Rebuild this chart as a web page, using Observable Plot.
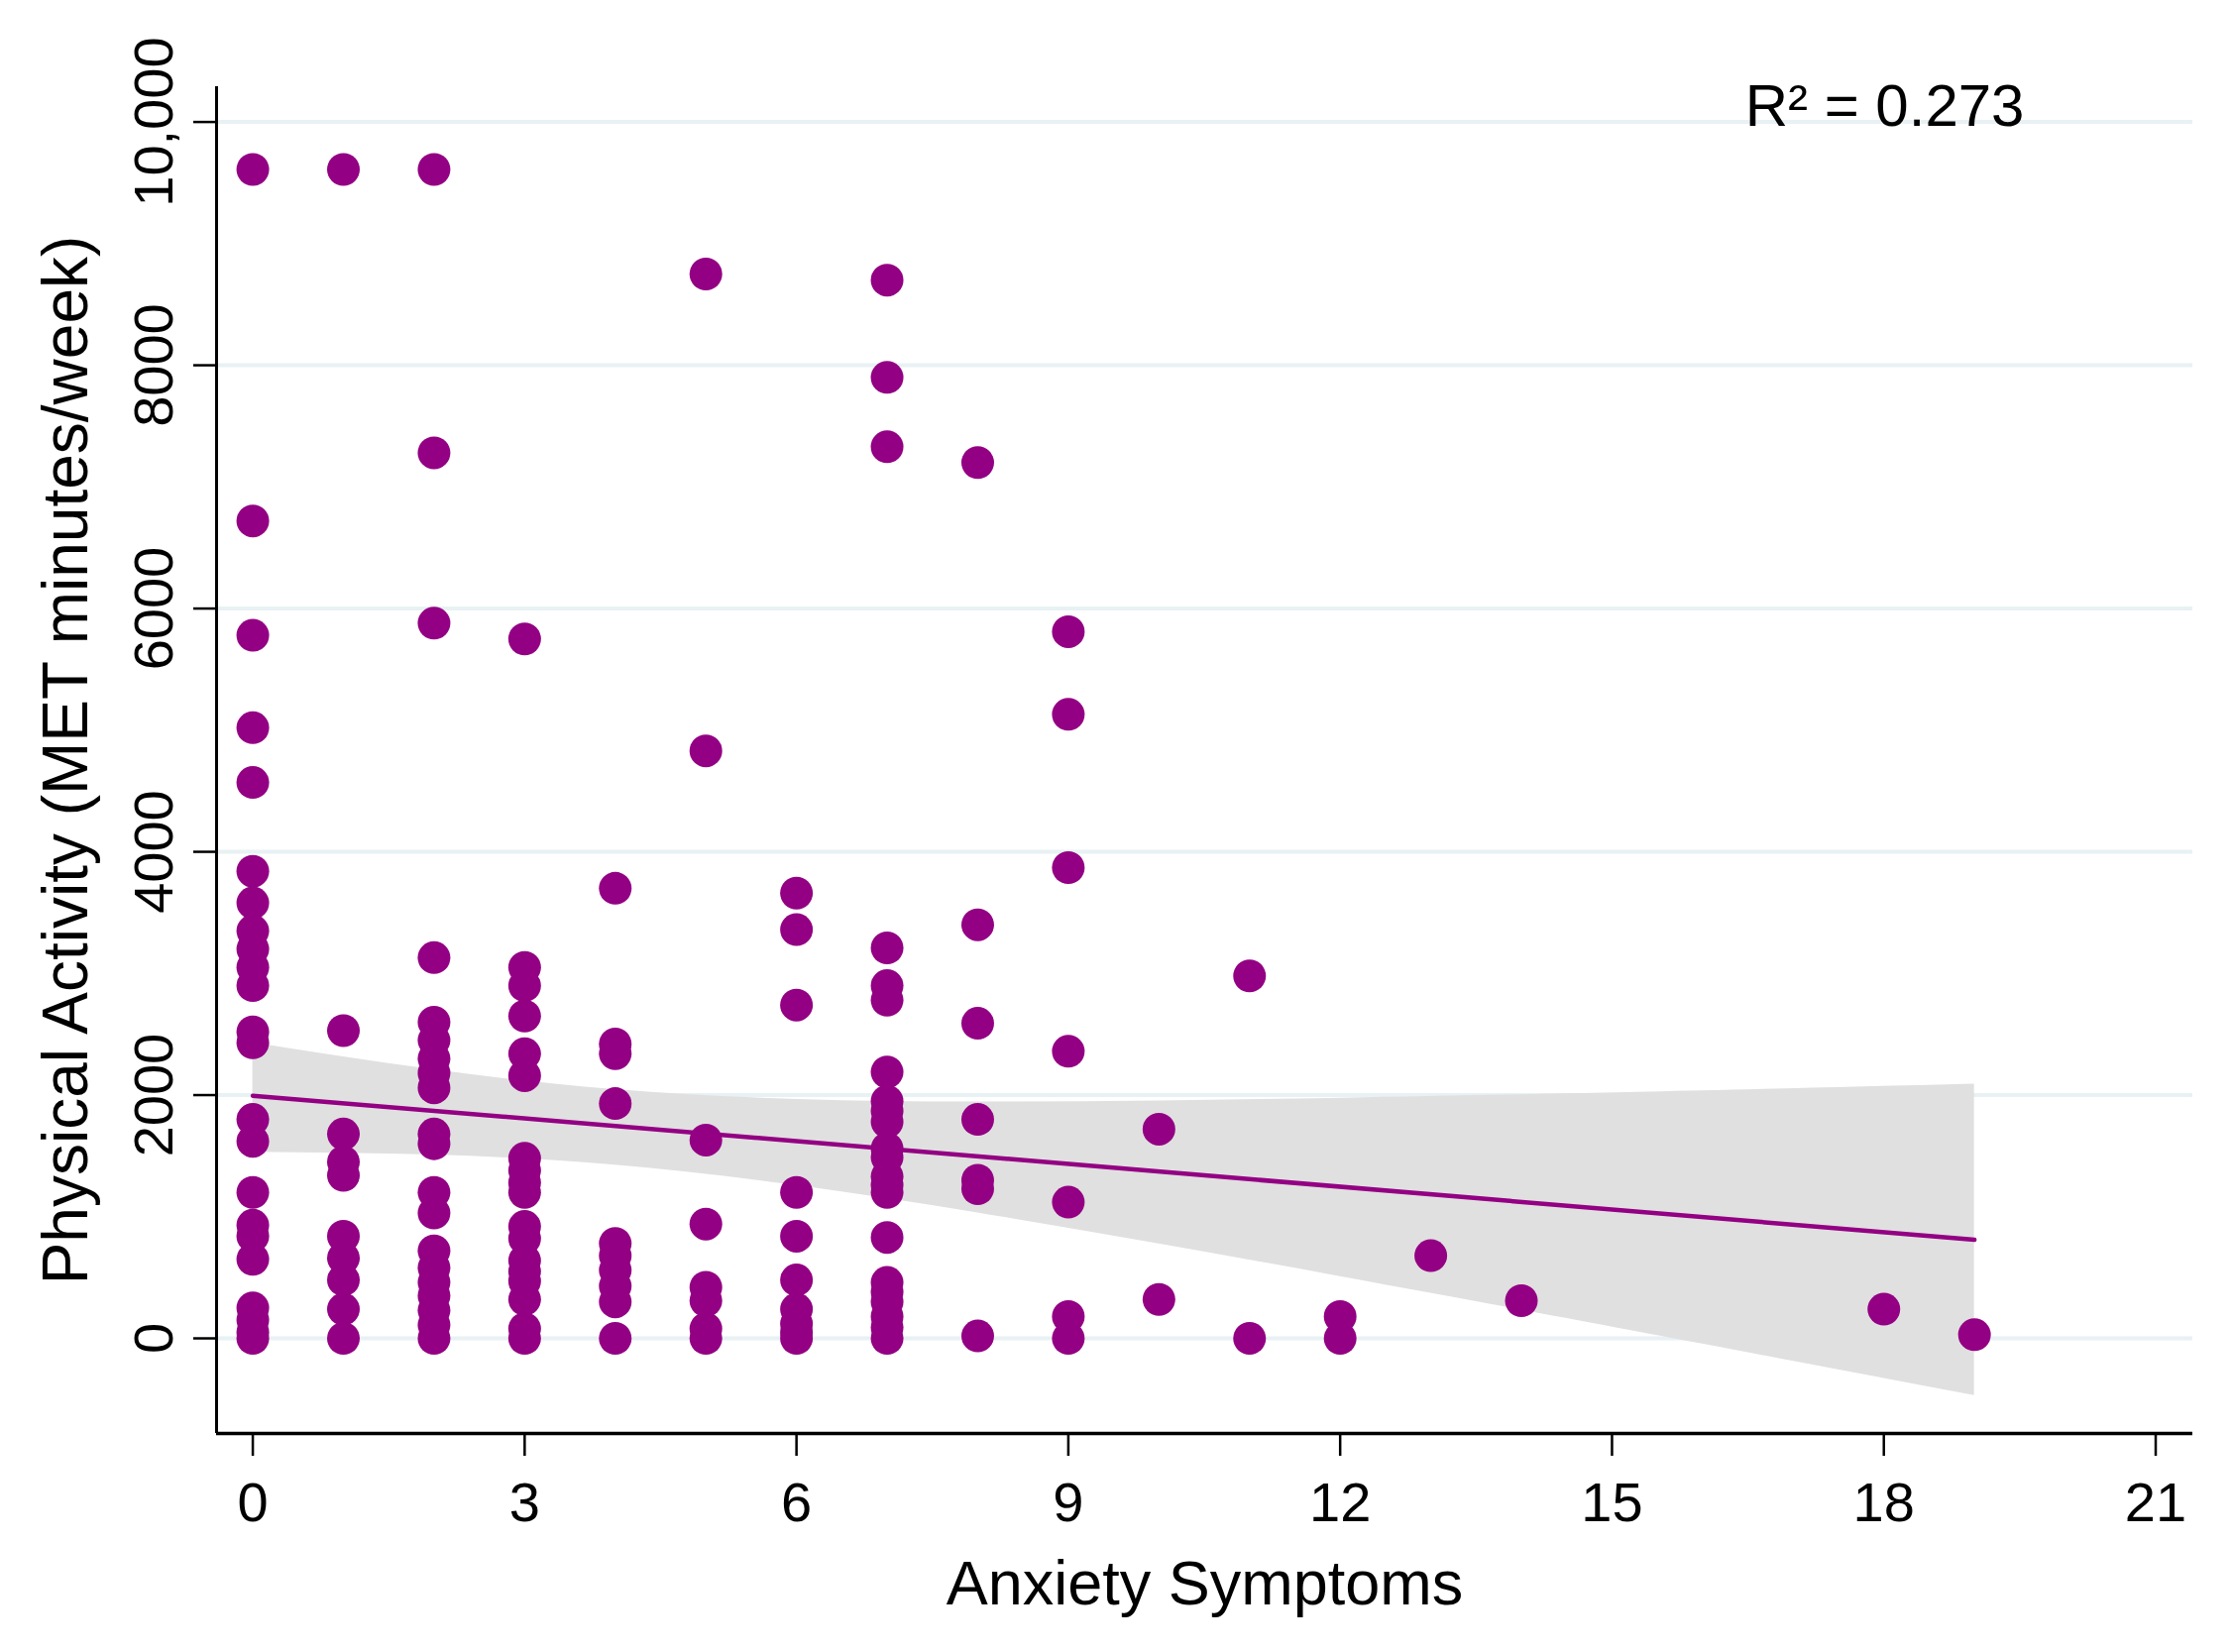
<!DOCTYPE html>
<html>
<head>
<meta charset="utf-8">
<script src="https://cdn.jsdelivr.net/npm/d3@7"></script>
<script src="https://cdn.jsdelivr.net/npm/@observablehq/plot@0.6"></script>
<style>
  html, body { margin: 0; padding: 0; background: #ffffff; }
  #chart svg { display: block; }
</style>
</head>
<body>
<div id="chart"></div>
<script>
// Physical activity (MET minutes/week) for each anxiety symptom score
const scores = [0, 1, 2, 3, 4, 5, 6, 7, 8, 9, 10, 11, 12, 13, 14, 18, 19];
const pa0 = [9610, 6720, 5780, 5020, 4570, 3840, 3580, 3350, 3200, 3050, 2900, 2520, 2430, 1800, 1620, 1200, 930, 840, 650, 250, 150, 50, 0];
const pa1 = [9610, 2530, 1680, 1450, 1340, 840, 660, 480, 240, 0];
const pa2 = [9610, 7280, 5880, 3130, 2600, 2450, 2300, 2180, 2060, 1680, 1600, 1200, 1030, 720, 580, 460, 350, 230, 110, 0];
const pa3 = [5750, 3050, 2900, 2650, 2340, 2160, 1480, 1380, 1280, 1200, 920, 820, 640, 550, 470, 320, 80, 0];
const pa4 = [3700, 2420, 2340, 1930, 780, 680, 560, 430, 300, 0];
const pa5 = [8750, 4830, 1630, 940, 420, 310, 80, 0];
const pa6 = [3660, 3360, 2740, 1200, 840, 480, 240, 120, 50, 0];
const pa7 = [8700, 7900, 7330, 3210, 2900, 2780, 2190, 1950, 1870, 1780, 1560, 1490, 1330, 1260, 1200, 830, 460, 380, 300, 180, 90, 0];
const pa8 = [7200, 3400, 2590, 1800, 1300, 1230, 20];
const pa9 = [5810, 5130, 3870, 2360, 1120, 180, 0];
const pa10 = [1720, 320];
const pa11 = [2980, 0];
const pa12 = [180, 0];
const pa13 = [680];
const pa14 = [310];
const pa18 = [240];
const pa19 = [30];
const columns = [pa0, pa1, pa2, pa3, pa4, pa5, pa6, pa7, pa8, pa9, pa10, pa11, pa12, pa13, pa14, pa18, pa19];

// Fitted line and 95% CI band
const fitX = [0, 19];
const fitY = [1995, 810];
const bandX  = [0, 2, 4, 6, 8, 10, 12, 14, 16, 19];
const bandHi = [2430, 2207, 2045, 1964, 1943, 1952, 1974, 2003, 2035, 2090];
const bandLo = [1530, 1507, 1423, 1256, 1031, 776, 508, 233, -47, -470];

// Axes
const xTicks = [0, 3, 6, 9, 12, 15, 18, 21];
const yTicks = [0, 2000, 4000, 6000, 8000, 10000];
const yTickLabels = ["0", "2000", "4000", "6000", "8000", "10,000"];
const xTitle = "Anxiety Symptoms";
const yTitle = "Physical Activity (MET minutes/week)";
const r2Label = "R\u00B2 = 0.273";

const points = columns.flatMap((col, i) => col.map(v => ({x: scores[i], y: v})));
const fit = fitX.map((x, i) => ({x, y: fitY[i]}));
const band = bandX.map((x, i) => ({x, lo: bandLo[i], hi: bandHi[i]}));
const yLabelRows = yTicks.map((v, i) => ({v, label: yTickLabels[i]}));

const xDomain = [-0.4, 21.41];
const yDomain = [-782, 10290];
const purple = "#930083";

const chart = Plot.plot({
  width: 2251,
  height: 1667,
  marginLeft: 218,
  marginRight: 39,
  marginTop: 87,
  marginBottom: 221,
  style: {fontFamily: "'Liberation Sans', Arial, sans-serif", background: "#ffffff", color: "#000000"},
  x: {domain: xDomain},
  y: {domain: yDomain},
  marks: [
    Plot.gridY(yTicks, {stroke: "#e8f1f3", strokeOpacity: 1, strokeWidth: 4}),
    Plot.areaY(band, {x: "x", y1: "lo", y2: "hi", fill: "#e0e0e0", curve: "natural"}),
    Plot.line(fit, {x: "x", y: "y", stroke: purple, strokeWidth: 4.5}),
    Plot.dot(points, {x: "x", y: "y", r: 16.5, fill: purple, stroke: "none"}),
    Plot.ruleX([xDomain[0]], {stroke: "#000", strokeWidth: 3}),
    Plot.ruleY([yDomain[0]], {stroke: "#000", strokeWidth: 3.5}),
    Plot.axisX({ticks: xTicks, tickSize: 23, tickPadding: 26, fontSize: 56, label: null, tickFormat: d => String(d), strokeWidth: 2.5}),
    Plot.axisY({ticks: yTicks, tickSize: 23, tickFormat: () => "", label: null, strokeWidth: 2.5}),
    Plot.text(yLabelRows, {y: "v", text: "label", frameAnchor: "left", rotate: -90, dx: -45, textAnchor: "middle", lineAnchor: "bottom", fontSize: 56, fill: "#000"}),
    Plot.text([yTitle], {text: d => d, frameAnchor: "left", rotate: -90, dx: -131, textAnchor: "middle", lineAnchor: "bottom", fontSize: 64, fill: "#000"}),
    Plot.text([xTitle], {text: d => d, frameAnchor: "bottom", dy: 172, textAnchor: "middle", lineAnchor: "bottom", fontSize: 63, fill: "#000"}),
    Plot.text([r2Label], {text: d => d, frameAnchor: "top-right", dx: -170, dy: 39, textAnchor: "end", lineAnchor: "bottom", fontSize: 60, fill: "#000"})
  ]
});
document.getElementById("chart").appendChild(chart);
</script>
</body>
</html>
